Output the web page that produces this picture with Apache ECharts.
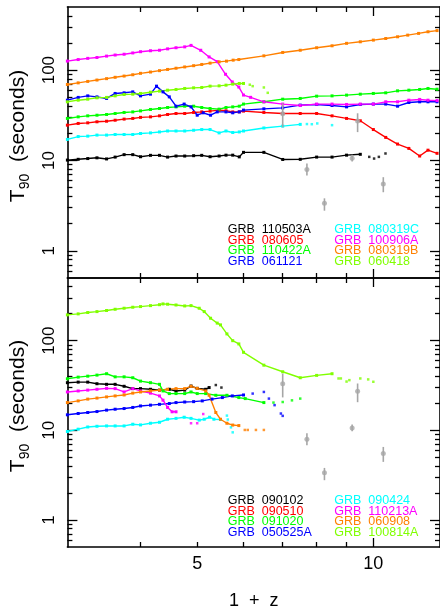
<!DOCTYPE html>
<html>
<head>
<meta charset="utf-8">
<script src="https://cdn.jsdelivr.net/npm/echarts@6/dist/echarts.min.js"></script>
<style>
  html, body { margin: 0; padding: 0; background: #ffffff; }
  #chart { width: 440px; height: 611px; }
</style>
</head>
<body>
<div id="chart"></div>
<script>
// T90 of bright GRBs shifted to higher redshift, in two panels (log 1+z vs log T90)
const FONT = '"Liberation Sans", Arial, Helvetica, sans-serif';

// axis ranges and ticks
const zRange = [3, 13];
const tRange = [0.5, 500];
const xMajorTicks = [10];
const xMinorTicks = [4, 5, 6, 7, 8, 9];
const xTickLabels = [5, 10];
const yMajorTicks = [1, 10, 100];
const yMinorTicks = [0.6, 0.7, 0.8, 0.9, 2, 3, 4, 5, 6, 7, 8, 9, 20, 30, 40, 50, 60, 70, 80, 90, 200, 300, 400];
const yTickLabels = [1, 10, 100];

// ---- upper panel: [1+z, T90 (s)] ----
const grb110503A = [[3.0,10.1],[3.13,10.3],[3.25,10.5],[3.37,10.7],[3.5,10.4],[3.62,10.9],[3.75,11.6],[3.88,11.6],[4.0,11.0],[4.16,11.4],[4.31,11.4],[4.45,10.9],[4.6,11.2],[4.76,11.2],[4.93,11.3],[5.09,11.4],[5.26,11.0],[5.45,11.2],[5.6,11.45],[5.75,11.45],[5.9,10.96],[6.0,12.3],[6.5,12.3],[7.0,10.26],[7.5,10.3],[8.0,10.9],[8.5,10.9],[9.0,11.45],[9.5,11.7]];
const grb110503A_faint = [[9.84,10.96],[10.03,10.5],[10.22,10.96],[10.49,11.95]];
const grb080605 = [[3.0,24.6],[3.13,25.7],[3.25,26.1],[3.37,26.8],[3.5,27.2],[3.62,27.9],[3.75,28.7],[3.88,29.2],[4.0,30.0],[4.16,30.4],[4.31,31.2],[4.45,32.3],[4.6,33.1],[4.76,33.1],[4.93,34.0],[5.09,34.5],[5.26,35.2],[5.45,36.1],[5.6,35.5],[5.75,34.5],[5.9,34.5],[6.0,35.2],[6.5,34.0],[7.0,33.1],[7.5,33.1],[8.0,33.1],[8.5,31.2],[9.0,29.2],[9.5,27.5],[10.0,22.0],[10.5,18.0],[11.0,15.2],[11.5,13.6],[12.0,11.2],[12.4,13.0],[12.85,12.0]];
const grb110422A = [[3.0,29.2],[3.13,30.4],[3.25,31.2],[3.37,31.7],[3.5,32.3],[3.62,33.1],[3.75,34.0],[3.88,34.5],[4.0,35.4],[4.16,36.7],[4.31,37.6],[4.45,38.6],[4.6,39.2],[4.76,39.9],[4.93,39.9],[5.09,38.6],[5.26,37.6],[5.45,37.0],[5.6,38.6],[5.75,39.2],[5.9,39.9],[6.0,42.1],[6.5,44.6],[7.0,47.7],[7.5,48.6],[8.0,51.5],[8.5,51.9],[9.0,52.9],[9.5,54.2],[10.0,55.2],[10.5,56.1],[11.0,59.0],[11.5,60.0],[12.0,61.1],[12.4,62.7],[12.85,61.5]];
const grb061121 = [[3.0,46.5],[3.13,49.9],[3.25,51.9],[3.37,50.6],[3.5,48.6],[3.62,55.2],[3.75,56.1],[3.88,57.5],[4.0,51.9],[4.16,54.2],[4.26,66.5],[4.37,57.5],[4.48,50.6],[4.6,39.9],[4.75,42.1],[4.88,39.2],[5.0,31.7],[5.12,33.7],[5.27,31.7],[5.41,34.5],[5.6,34.5],[5.75,33.7],[5.9,34.5],[6.0,36.1],[6.5,37.3],[7.0,38.2],[7.5,41.0],[8.0,41.7],[8.5,40.6],[9.0,39.2],[9.5,41.7],[10.0,42.1],[10.5,42.1],[11.0,39.9],[11.5,43.8],[12.0,44.6],[12.4,44.6],[12.85,44.6]];
const grb080319C = [[3.0,17.1],[3.13,18.4],[3.25,18.6],[3.37,19.1],[3.5,19.1],[3.62,19.4],[3.75,19.4],[3.88,19.4],[4.0,19.9],[4.16,20.2],[4.31,20.7],[4.45,21.2],[4.6,21.2],[4.76,21.2],[4.93,21.6],[5.09,22.0],[5.26,22.0],[5.45,20.2],[5.6,21.2],[5.75,20.4],[5.9,20.7],[6.0,21.2],[6.5,22.9],[7.0,24.0],[7.5,25.1]];
const grb080319C_faint = [[7.7,25.3],[7.85,25.2],[8.02,25.7],[8.5,24.6]];
const grb100906A = [[3.0,126],[3.13,131],[3.25,135],[3.37,138],[3.5,143],[3.62,147],[3.75,150],[3.88,155],[4.0,160],[4.16,164],[4.31,166],[4.45,172],[4.6,177],[4.76,181],[4.88,188],[5.07,166],[5.24,140],[5.41,124],[5.59,90],[5.74,74],[5.89,65],[6.0,53],[6.17,50],[6.5,44.6],[7.0,42.1],[7.5,40.6],[8.0,42.1],[8.5,42.1],[9.0,41.7],[9.5,42.1],[10.0,42.1],[10.5,44.6],[11.0,44.6],[11.5,46.5],[12.0,47.4],[12.4,46.5],[12.85,46.0]];
const grb080319B = [[3.0,69.4],[3.13,72.3],[3.25,75.0],[3.37,77.7],[3.5,80.5],[3.62,83.3],[3.75,86.0],[3.88,88.9],[4.0,92.2],[4.16,95.3],[4.31,98.7],[4.45,101.8],[4.6,105],[4.76,108.5],[4.93,112],[5.09,115.6],[5.26,119.5],[5.45,123.6],[5.61,125.8],[5.76,129],[5.89,131],[6.5,144],[7.0,157],[7.5,166],[8.0,177],[8.5,186],[9.0,198],[9.5,206],[10.0,215],[10.5,224],[11.0,234],[11.45,244],[11.95,255],[12.4,266],[12.85,274]];
const grb060418 = [[3.0,44.6],[3.13,46.5],[3.25,47.7],[3.37,49.4],[3.5,49.9],[3.62,51.9],[3.75,53.8],[3.88,54.2],[4.0,55.2],[4.16,57.0],[4.31,58.6],[4.45,60.0],[4.6,61.1],[4.76,62.7],[4.93,63.7],[5.09,64.3],[5.26,66.5],[5.45,67.0],[5.6,68.2],[5.75,70.0],[5.9,71.2],[6.0,71.2]];
const grb060418_faint = [[6.15,69],[6.22,66.5],[6.5,64.3],[6.6,56.1]];

// ---- lower panel ----
const grb090102 = [[3.0,34.0],[3.13,34.5],[3.25,34.5],[3.37,33.1],[3.5,32.6],[3.62,32.6],[3.75,31.0],[3.88,29.2],[4.0,29.2],[4.16,28.7],[4.31,28.1],[4.48,28.7],[4.6,27.5],[4.76,28.1],[4.88,31.2],[5.0,29.4],[5.17,28.7],[5.24,30.0]];
const grb090102_faint = [[5.38,32.0],[5.5,30.0]];
const grb090510 = [];
const grb091020 = [[3.0,37.6],[3.13,39.2],[3.25,40.2],[3.37,41.3],[3.5,42.8],[3.62,39.5],[3.75,39.5],[3.88,38.6],[4.0,35.4],[4.16,34.0],[4.31,32.6],[4.37,27.5],[4.48,25.7],[4.6,25.7],[4.76,25.7],[4.88,26.8],[5.0,25.7],[5.17,25.7],[5.38,24.6],[5.62,24.6],[5.89,23.2],[6.04,22.6],[6.5,20.4]];
const grb091020_faint = [[6.75,20.4],[7.0,20.7],[7.26,21.6],[7.5,22.6]];
const grb050525A = [[3.0,14.9],[3.13,15.4],[3.25,15.8],[3.37,16.2],[3.5,16.8],[3.62,17.2],[3.75,17.5],[3.88,18.0],[4.0,18.7],[4.16,19.1],[4.31,19.5],[4.48,19.9],[4.6,20.4],[4.76,20.7],[4.93,20.9],[5.1,21.3],[5.3,22.3],[5.52,23.2],[5.74,24.2],[6.0,24.8]];
const grb050525A_faint = [[6.22,25.7],[6.5,26.8],[6.63,22.6],[6.78,19.1],[6.95,15.4],[7.0,14.5]];
const grb090424 = [[3.0,9.7],[3.13,10.3],[3.25,10.9],[3.37,11.1],[3.5,11.2],[3.62,11.2],[3.75,11.2],[3.88,11.7],[4.0,11.5],[4.16,12.0],[4.31,12.3],[4.45,13.3],[4.6,13.6],[4.75,14.0],[4.88,13.6],[5.04,13.0],[5.14,13.3],[5.25,14.0],[5.34,13.3],[5.48,13.2]];
const grb090424_faint = [[5.62,14.6],[5.64,13.2],[5.71,10.8],[5.75,9.5]];
const grb110213A = [[3.0,26.8],[3.13,27.5],[3.25,28.1],[3.37,28.7],[3.5,29.4],[3.62,29.2],[3.75,26.8],[3.88,29.2],[4.0,27.5],[4.16,26.0],[4.31,24.2],[4.37,21.7],[4.45,18.0],[4.53,16.1],[4.6,16.1]];
const grb110213A_faint = [[4.88,12.0],[5.0,12.0],[5.12,15.2]];
const grb060908 = [[3.0,20.4],[3.13,21.3],[3.25,22.3],[3.37,22.9],[3.5,23.6],[3.62,24.2],[3.75,24.8],[3.88,26.0],[4.0,26.8],[4.16,27.5],[4.31,28.1],[4.45,28.7],[4.6,29.2],[4.76,29.2],[4.88,31.0],[5.0,29.4],[5.17,27.5],[5.24,24.6],[5.38,15.8],[5.48,13.3],[5.62,12.0],[5.75,11.45],[5.89,11.3]];
const grb060908_faint = [[6.03,10.1],[6.1,10.1],[6.3,10.1],[6.5,10.1]];
const grb100814A = [[3.0,194],[3.13,199],[3.25,206],[3.37,211],[3.5,217],[3.62,224],[3.75,230],[3.88,236],[4.0,240],[4.16,246],[4.31,252],[4.37,257],[4.45,255],[4.6,250],[4.76,244],[4.88,246],[5.04,230],[5.14,211],[5.27,178],[5.41,157],[5.48,150],[5.62,119],[5.75,100],[5.89,92],[6.0,74.2],[6.5,53.3],[7.0,45],[7.5,38.6],[8.0,41],[8.5,42.8]];
const grb100814A_faint = [[8.72,37.9],[8.8,37.9],[9.0,35],[9.1,36.3],[9.5,37.9],[9.8,37],[10.0,34.8]];

// observed high-redshift bursts with T90 error bars (both panels)
const obsOnePlusZ = [7.0, 7.7, 8.25, 9.2, 9.4, 10.4];
const obsT90 = [33.0, 7.94, 3.36, 10.6, 27.3, 5.5];
const obsT90Low = [23.3, 6.81, 2.78, 9.75, 20.6, 4.45];
const obsT90High = [43.0, 9.26, 3.81, 11.6, 33.3, 6.53];

const GRAY = '#a6a6a6';
const panels = [
  {
    top: 7, height: 271,
    curves: [
      { name: 'GRB  110503A', color: '#000000', line: grb110503A, faint: grb110503A_faint },
      { name: 'GRB  080605',  color: '#ff0000', line: grb080605 },
      { name: 'GRB  110422A', color: '#00ff00', line: grb110422A },
      { name: 'GRB  061121',  color: '#0000ff', line: grb061121 },
      { name: 'GRB  080319C', color: '#00ffff', line: grb080319C, faint: grb080319C_faint },
      { name: 'GRB  100906A', color: '#ff00ff', line: grb100906A },
      { name: 'GRB  080319B', color: '#ff8000', line: grb080319B },
      { name: 'GRB  060418',  color: '#80ff00', line: grb060418, faint: grb060418_faint }
    ]
  },
  {
    top: 278, height: 270,
    curves: [
      { name: 'GRB  090102',  color: '#000000', line: grb090102, faint: grb090102_faint },
      { name: 'GRB  090510',  color: '#ff0000', line: grb090510 },
      { name: 'GRB  091020',  color: '#00ff00', line: grb091020, faint: grb091020_faint },
      { name: 'GRB  050525A', color: '#0000ff', line: grb050525A, faint: grb050525A_faint },
      { name: 'GRB  090424',  color: '#00ffff', line: grb090424, faint: grb090424_faint },
      { name: 'GRB  110213A', color: '#ff00ff', line: grb110213A, faint: grb110213A_faint },
      { name: 'GRB  060908',  color: '#ff8000', line: grb060908, faint: grb060908_faint },
      { name: 'GRB  100814A', color: '#80ff00', line: grb100814A, faint: grb100814A_faint }
    ]
  }
];

const AXIS_LINE = { color: '#000', width: 1.6 };
const grids = [], xAxes = [], yAxes = [], series = [], legends = [];

function xAxis(g, position, ticks, len, showLine, extra) {
  return Object.assign({
    type: 'log', logBase: 10, min: zRange[0], max: zRange[1], gridIndex: g, position: position,
    splitLine: { show: false },
    axisLine: { show: showLine, onZero: false, lineStyle: AXIS_LINE },
    axisTick: { show: true, inside: true, length: len, customValues: ticks, lineStyle: { color: '#000', width: 1.3 } },
    axisLabel: { show: false }
  }, extra || {});
}
function yAxis(g, position, ticks, len, showLine, extra) {
  return Object.assign({
    type: 'log', logBase: 10, min: tRange[0], max: tRange[1], gridIndex: g, position: position,
    splitLine: { show: false },
    axisLine: { show: showLine, onZero: false, lineStyle: AXIS_LINE },
    axisTick: { show: true, inside: true, length: len, customValues: ticks, lineStyle: { color: '#000', width: 1.3 } },
    axisLabel: { show: false }
  }, extra || {});
}

panels.forEach((p, g) => {
  grids.push({ left: 67, top: p.top, width: 376, height: p.height });

  const bottomExtra = g === 1 ? {
    axisLabel: { show: true, customValues: xTickLabels, fontSize: 18, fontFamily: FONT, color: '#000', margin: 8 },
    name: '1  +  z', nameLocation: 'middle', nameGap: 45,
    nameTextStyle: { fontSize: 18, fontFamily: FONT, color: '#000' }
  } : {};
  xAxes.push(xAxis(g, 'bottom', xMajorTicks, 9, true, bottomExtra));
  xAxes.push(xAxis(g, 'bottom', xMinorTicks, 5, false));
  xAxes.push(xAxis(g, 'top', xMajorTicks, 9, true));
  xAxes.push(xAxis(g, 'top', xMinorTicks, 5, false));

  yAxes.push(yAxis(g, 'left', yMajorTicks, 10, true, {
    axisLabel: { show: true, customValues: yTickLabels, rotate: 90, fontSize: 17, fontFamily: FONT, color: '#000', margin: 10 },
    name: '{t|T}{s|90}{t|  (seconds)}', nameLocation: 'middle', nameGap: 34, nameRotate: 90,
    nameTextStyle: {
      color: '#000', fontFamily: FONT, fontSize: 21, padding: [0, 0, 0, 13],
      rich: {
        t: { fontSize: 21, fontFamily: FONT, color: '#000', lineHeight: 28 },
        s: { fontSize: 14, fontFamily: FONT, color: '#000', lineHeight: 14, verticalAlign: 'bottom' }
      }
    }
  }));
  yAxes.push(yAxis(g, 'left', yMinorTicks, 5, false));
  yAxes.push(yAxis(g, 'right', yMajorTicks, 10, true));
  yAxes.push(yAxis(g, 'right', yMinorTicks, 5, false));

  p.curves.forEach(c => {
    series.push({
      type: 'line', name: c.name, xAxisIndex: 4 * g, yAxisIndex: 4 * g,
      data: c.line, symbol: 'rect', symbolSize: 3, showSymbol: true,
      lineStyle: { color: c.color, width: 1.4 }, itemStyle: { color: c.color },
      animation: false, silent: true, z: 3
    });
    if (c.faint) {
      series.push({
        type: 'scatter', name: c.name, xAxisIndex: 4 * g, yAxisIndex: 4 * g,
        data: c.faint, symbol: 'rect', symbolSize: 2.5,
        itemStyle: { color: c.color }, animation: false, silent: true, z: 3
      });
    }
  });

  const obsBars = obsOnePlusZ.map((z, i) => [z, obsT90Low[i], obsT90High[i]]);
  series.push({
    type: 'custom', xAxisIndex: 4 * g, yAxisIndex: 4 * g, data: obsBars,
    encode: { x: 0, y: [1, 2] }, animation: false, silent: true, z: 4,
    renderItem: (params, api) => {
      const a = api.coord([api.value(0), api.value(1)]);
      const b = api.coord([api.value(0), api.value(2)]);
      return { type: 'line', shape: { x1: a[0], y1: a[1], x2: b[0], y2: b[1] },
               style: { stroke: GRAY, lineWidth: 1.6 } };
    }
  });
  series.push({
    type: 'scatter', xAxisIndex: 4 * g, yAxisIndex: 4 * g,
    data: obsOnePlusZ.map((z, i) => [z, obsT90[i]]),
    symbol: 'circle', symbolSize: 5, itemStyle: { color: GRAY },
    animation: false, silent: true, z: 5
  });

  // two columns of coloured names
  const rowTop = p.top + 216.5;
  [p.curves.slice(0, 4), p.curves.slice(4)].forEach((col, k) => {
    legends.push({
      orient: 'vertical', left: k === 0 ? 222.7 : 329.3, top: rowTop, padding: 0,
      icon: 'none', itemWidth: 0, itemHeight: 11, itemGap: -2.5, selectedMode: false,
      textStyle: { fontSize: 12.5, fontFamily: FONT, lineHeight: 11 },
      data: col.map(c => ({ name: c.name, textStyle: { color: c.color } }))
    });
  });
});

const chart = echarts.init(document.getElementById('chart'), null, { renderer: 'canvas' });
chart.setOption({
  backgroundColor: '#ffffff',
  animation: false,
  grid: grids,
  xAxis: xAxes,
  yAxis: yAxes,
  legend: legends,
  series: series
});
</script>
</body>
</html>
